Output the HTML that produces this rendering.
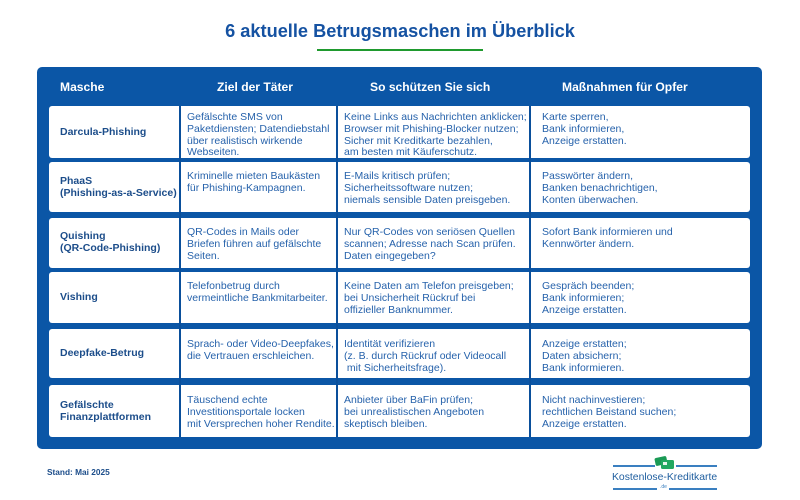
<!DOCTYPE html>
<html><head><meta charset="utf-8">
<style>
*{margin:0;padding:0;box-sizing:border-box}
html,body{width:800px;height:500px;background:#fff;overflow:hidden}
body{position:relative;font-family:"Liberation Sans",sans-serif}
.title{position:absolute;left:0;width:800px;top:20px;text-align:center;font-weight:bold;font-size:18.2px;color:#1552a2;line-height:22px}
.uline{position:absolute;left:317px;top:49px;width:166px;height:2px;background:#1f9a2e}
.panel{position:absolute;left:37px;top:67px;width:725px;height:382px;background:#0b56a6;border-radius:5px}
.hd{position:absolute;top:80px;font-weight:bold;font-size:12.1px;color:#fff;line-height:14px;white-space:nowrap}
.row{position:absolute;left:49px;width:701px;background:#fff;border-radius:3px}
.vl{position:absolute;top:106px;height:331px;width:2px;background:#0a4f9b}
.c1{position:absolute;left:60px;width:120px;display:flex;align-items:center;font-weight:bold;font-size:10.5px;line-height:12.5px;color:#1c4d8a;white-space:nowrap}
.t{position:absolute;font-size:10.5px;line-height:11.8px;color:#2662ab;white-space:nowrap}
.foot{position:absolute;left:47px;top:467px;font-weight:bold;font-size:8.3px;color:#1c4d8a;line-height:10px}
.logo{position:absolute;left:612px;top:472px;font-size:10.4px;color:#1f5e9f;line-height:12px;white-space:nowrap}
.ll{position:absolute;height:1.5px;background:#3a7fc0}
</style></head><body>
<div class="title">6 aktuelle Betrugsmaschen im Überblick</div>
<div class="uline"></div>
<div class="panel"></div>
<div class="hd" style="left:60px">Masche</div>
<div class="hd" style="left:217px">Ziel der Täter</div>
<div class="hd" style="left:370px">So schützen Sie sich</div>
<div class="hd" style="left:562px">Maßnahmen für Opfer</div>

<div class="row" style="top:106px;height:52px"></div>
<div class="row" style="top:162px;height:50px"></div>
<div class="row" style="top:218px;height:50px"></div>
<div class="row" style="top:272px;height:51px"></div>
<div class="row" style="top:329px;height:49px"></div>
<div class="row" style="top:385px;height:52px"></div>

<div class="vl" style="left:179px"></div>
<div class="vl" style="left:336px"></div>
<div class="vl" style="left:529px"></div>

<!-- Row 1 -->
<div class="c1" style="top:106px;height:52px">Darcula-Phishing</div>
<div class="t" style="left:187px;top:112px">Gefälschte SMS von<br>Paketdiensten; Datendiebstahl<br>über realistisch wirkende<br>Webseiten.</div>
<div class="t" style="left:344px;top:112px">Keine Links aus Nachrichten anklicken;<br>Browser mit Phishing-Blocker nutzen;<br>Sicher mit Kreditkarte bezahlen,<br>am besten mit Käuferschutz.</div>
<div class="t" style="left:542px;top:112px">Karte sperren,<br>Bank informieren,<br>Anzeige erstatten.</div>

<!-- Row 2 -->
<div class="c1" style="top:162px;height:50px">PhaaS<br>(Phishing-as-a-Service)</div>
<div class="t" style="left:187px;top:171px">Kriminelle mieten Baukästen<br>für Phishing-Kampagnen.</div>
<div class="t" style="left:344px;top:171px">E-Mails kritisch prüfen;<br>Sicherheitssoftware nutzen;<br>niemals sensible Daten preisgeben.</div>
<div class="t" style="left:542px;top:171px">Passwörter ändern,<br>Banken benachrichtigen,<br>Konten überwachen.</div>

<!-- Row 3 -->
<div class="c1" style="top:218px;height:48px">Quishing<br>(QR-Code-Phishing)</div>
<div class="t" style="left:187px;top:227px">QR-Codes in Mails oder<br>Briefen führen auf gefälschte<br>Seiten.</div>
<div class="t" style="left:344px;top:227px">Nur QR-Codes von seriösen Quellen<br>scannen; Adresse nach Scan prüfen.<br>Daten eingegeben?</div>
<div class="t" style="left:542px;top:227px">Sofort Bank informieren und<br>Kennwörter ändern.</div>

<!-- Row 4 -->
<div class="c1" style="top:272px;height:51px">Vishing</div>
<div class="t" style="left:187px;top:281px">Telefonbetrug durch<br>vermeintliche Bankmitarbeiter.</div>
<div class="t" style="left:344px;top:281px">Keine Daten am Telefon preisgeben;<br>bei Unsicherheit Rückruf bei<br>offizieller Banknummer.</div>
<div class="t" style="left:542px;top:281px">Gespräch beenden;<br>Bank informieren;<br>Anzeige erstatten.</div>

<!-- Row 5 -->
<div class="c1" style="top:329px;height:49px">Deepfake-Betrug</div>
<div class="t" style="left:187px;top:339px">Sprach- oder Video-Deepfakes,<br>die Vertrauen erschleichen.</div>
<div class="t" style="left:344px;top:339px">Identität verifizieren<br>(z. B. durch Rückruf oder Videocall<br>&nbsp;mit Sicherheitsfrage).</div>
<div class="t" style="left:542px;top:339px">Anzeige erstatten;<br>Daten absichern;<br>Bank informieren.</div>

<!-- Row 6 -->
<div class="c1" style="top:385px;height:52px">Gefälschte<br>Finanzplattformen</div>
<div class="t" style="left:187px;top:395px">Täuschend echte<br>Investitionsportale locken<br>mit Versprechen hoher Rendite.</div>
<div class="t" style="left:344px;top:395px">Anbieter über BaFin prüfen;<br>bei unrealistischen Angeboten<br>skeptisch bleiben.</div>
<div class="t" style="left:542px;top:395px">Nicht nachinvestieren;<br>rechtlichen Beistand suchen;<br>Anzeige erstatten.</div>

<div class="foot">Stand: Mai 2025</div>

<!-- Logo -->
<div class="ll" style="left:613px;top:465px;width:42px"></div>
<div class="ll" style="left:676px;top:465px;width:41px"></div>
<svg style="position:absolute;left:654px;top:456px" width="22" height="14" viewBox="0 0 22 14">
<rect x="1" y="1" width="12" height="8" rx="1.5" fill="#1a9a55" transform="rotate(-12 7 5)"/>
<rect x="7" y="4" width="13" height="9" rx="1.5" fill="#22a862"/>
<rect x="9" y="6" width="4" height="3" fill="#e8f5ec"/>
</svg>
<div class="logo">Kostenlose-Kreditkarte</div>
<div class="ll" style="left:613px;top:488px;width:44px"></div>
<div style="position:absolute;left:660px;top:484px;font-size:5px;color:#3a7fc0;line-height:6px">.de</div>
<div class="ll" style="left:669px;top:488px;width:48px"></div>
</body></html>
